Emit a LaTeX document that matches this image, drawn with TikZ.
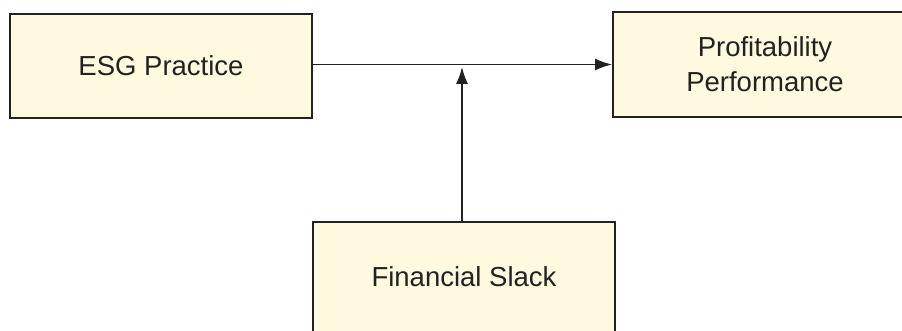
\documentclass[tikz,border=0pt]{standalone}
\usepackage{fontspec}
\setmainfont{Liberation Sans}
\usetikzlibrary{arrows.meta}
\definecolor{boxfill}{HTML}{FEF9DF}
\definecolor{ink}{HTML}{222222}
\begin{document}
\begin{tikzpicture}[x=1pt,y=-1pt,
  box/.style={draw=ink,line width=2pt,fill=boxfill,text=ink,align=center,
    inner sep=0pt,font=\fontsize{27.5}{35}\selectfont},
  conn/.style={draw=ink,line width=1.5pt,-{Latex[length=17pt,width=12pt]}}]
\useasboundingbox (0,0) rectangle (902,331);
\clip (0,0) rectangle (902,331);
\node[box,minimum width=304pt,minimum height=105pt] (prof) at (765,64.5) {Profitability\\Performance};
\node[box,minimum width=302pt,minimum height=104pt] (esg) at (161,66) {ESG Practice};
\node[box,minimum width=302pt,minimum height=110pt] (fs) at (464,277) {Financial Slack};
\coordinate (m) at (462,67);
\draw[conn] (esg.east |- prof.west) -- (prof.west);
\draw[conn] (m |- fs.north) -- (m);
\end{tikzpicture}
\end{document}
